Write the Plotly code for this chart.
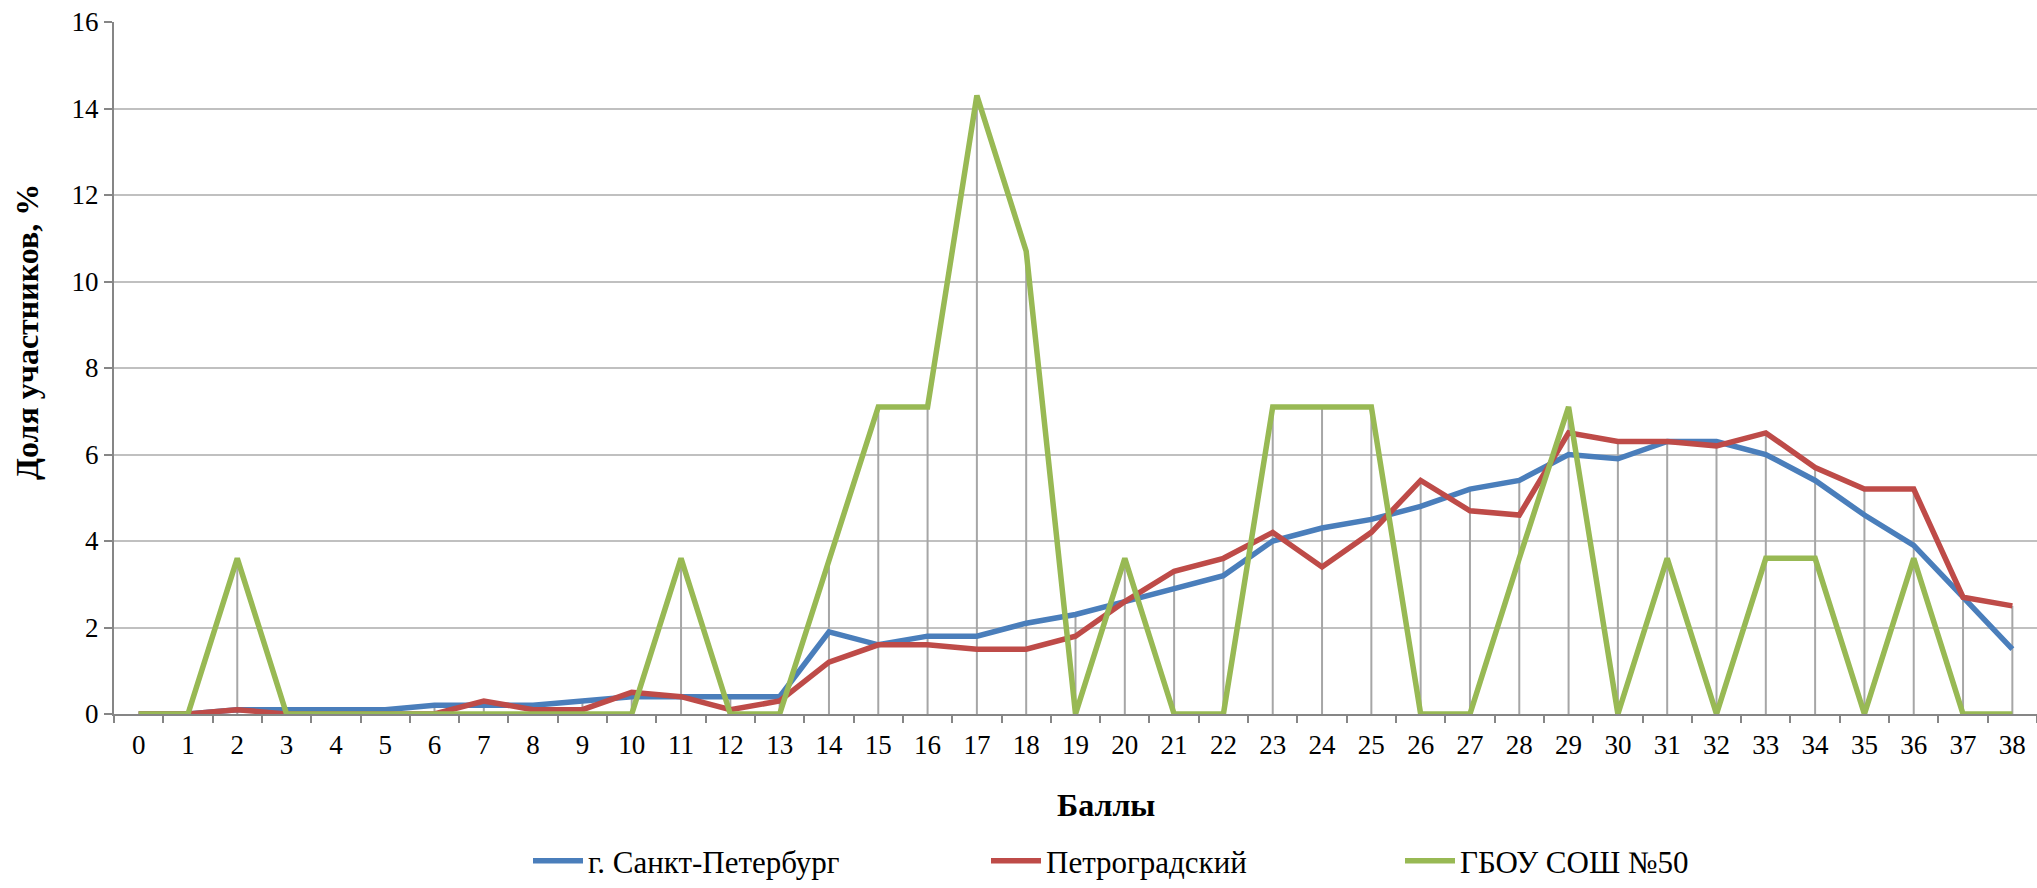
import plotly.graph_objects as go

scores = [str(i) for i in range(39)]

spb = [0, 0, 0.1, 0.1, 0.1, 0.1, 0.2, 0.2, 0.2, 0.3, 0.4, 0.4, 0.4, 0.4, 1.9, 1.6,
       1.8, 1.8, 2.1, 2.3, 2.6, 2.9, 3.2, 4.0, 4.3, 4.5, 4.8, 5.2, 5.4, 6.0, 5.9,
       6.3, 6.3, 6.0, 5.4, 4.6, 3.9, 2.7, 1.5]
petro = [0, 0, 0.1, 0, 0, 0, 0, 0.3, 0.1, 0.1, 0.5, 0.4, 0.1, 0.3, 1.2, 1.6,
         1.6, 1.5, 1.5, 1.8, 2.6, 3.3, 3.6, 4.2, 3.4, 4.2, 5.4, 4.7, 4.6, 6.5, 6.3,
         6.3, 6.2, 6.5, 5.7, 5.2, 5.2, 2.7, 2.5]
school = [0, 0, 3.6, 0, 0, 0, 0, 0, 0, 0, 0, 3.6, 0, 0, 3.6, 7.1,
          7.1, 14.3, 10.7, 0, 3.6, 0, 0, 7.1, 7.1, 7.1, 0, 0, 3.6, 7.1, 0,
          3.6, 0, 3.6, 3.6, 0, 3.6, 0, 0]

series_names = ["г. Санкт-Петербург", "Петроградский", "ГБОУ СОШ №50"]
series_colors = ["#4A7EBB", "#BE4B48", "#98B954"]

FONT = "Liberation Serif, Times New Roman, serif"

fig = go.Figure()

# drop lines (from axis up to highest point of each category)
dx, dy = [], []
for i, s in enumerate(scores):
    m = max(spb[i], petro[i], school[i])
    if m > 0:
        dx += [s, s, s]
        dy += [0, m, None]
fig.add_trace(go.Scatter(x=dx, y=dy, mode="lines", showlegend=False,
                         hoverinfo="skip", connectgaps=False,
                         line=dict(color="#A6A6A6", width=2)))

legends = ["legend", "legend2", "legend3"]
for data, name, color, lg in zip([spb, petro, school], series_names, series_colors, legends):
    fig.add_trace(go.Scatter(x=scores, y=data, mode="lines", name=name,
                             legend=lg,
                             line=dict(color=color, width=5.5)))

W, H = 2037, 888
L, R, T, B = 114, 0, 22, 174
pw, ph = W - L - R, H - T - B


def px_x(px):
    return (px - L) / pw


def px_y(py):
    return (H - B - py) / ph


leg_common = dict(orientation="h", xanchor="left", yanchor="bottom",
                  font=dict(family=FONT, size=31, color="#000000"),
                  bgcolor="rgba(0,0,0,0)", itemwidth=50, borderwidth=0)

fig.update_layout(
    width=W, height=H,
    margin=dict(l=L, r=R, t=T, b=B, autoexpand=False),
    paper_bgcolor="white", plot_bgcolor="white",
    font=dict(family=FONT, color="#000000"),
    legend=dict(x=px_x(528), y=px_y(888), **leg_common),
    legend2=dict(x=px_x(986), y=px_y(888), **leg_common),
    legend3=dict(x=px_x(1400), y=px_y(888), **leg_common),
    xaxis=dict(type="category", categoryorder="array", categoryarray=scores,
               range=[-0.5, 38.5], tickson="boundaries", automargin=False,
               showgrid=False, showline=True, linecolor="#868686", linewidth=2,
               ticks="outside", ticklen=7, tickwidth=2, tickcolor="#868686",
               tickfont=dict(family=FONT, size=27, color="#000000"),
               ticklabelstandoff=6, zeroline=False),
    yaxis=dict(range=[0, 16], dtick=2, showgrid=True, gridcolor="#C0C0C0",
               gridwidth=2, showline=True, linecolor="#868686", linewidth=2,
               automargin=False,
               ticks="outside", ticklen=8, tickwidth=2, tickcolor="#868686",
               tickfont=dict(family=FONT, size=27, color="#000000"),
               zeroline=False),
    annotations=[
        dict(text="<b>Баллы</b>", x=px_x(1106), y=px_y(805), xref="paper", yref="paper",
             showarrow=False, xanchor="center", yanchor="middle",
             font=dict(family=FONT, size=32, color="#000000")),
        dict(text="<b>Доля участников, %</b>", x=px_x(27), y=px_y(332), xref="paper",
             yref="paper", showarrow=False, xanchor="center", yanchor="middle",
             textangle=-90, font=dict(family=FONT, size=32, color="#000000")),
    ],
)

fig.write_html("out.html",
               config={"displayModeBar": False},
               post_script="document.body.style.margin='0px';"
                           "document.body.style.overflow='hidden';")
